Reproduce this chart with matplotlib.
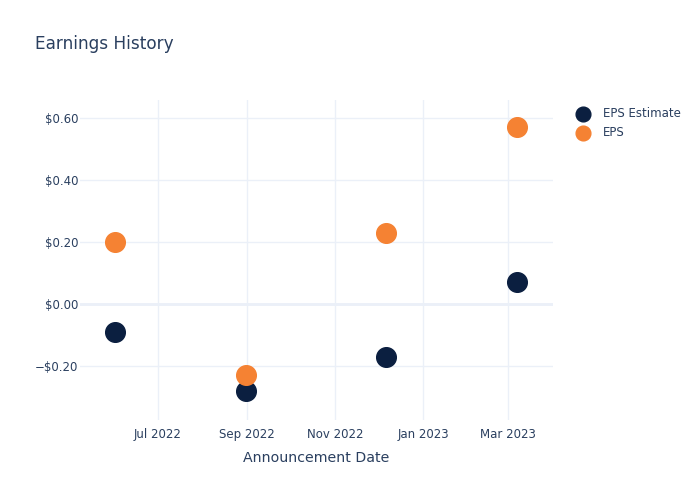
import matplotlib.pyplot as plt
import matplotlib.dates as mdates
import matplotlib.ticker as mticker
import pandas as pd

# announcement dates and EPS values
dates = pd.to_datetime(["2022-06-01", "2022-08-31", "2022-12-06", "2023-03-07"])
eps_estimate = [-0.09, -0.28, -0.17, 0.07]
eps_actual = [0.20, -0.23, 0.23, 0.57]

text_color = "#2a3f5f"
grid_color = "#ebf0f8"

fig = plt.figure(figsize=(7, 5), dpi=100)
ax = fig.add_axes([80 / 700, 0.16, (553 - 80) / 700, 0.64])

ax.scatter(dates, eps_estimate, s=200, color="#0b1f40", label="EPS Estimate", zorder=3)
ax.scatter(dates, eps_actual, s=200, color="#f58233", label="EPS", zorder=3)

ax.set_xlim(pd.Timestamp("2022-05-08"), pd.Timestamp("2023-04-01"))
ax.set_ylim(-0.374, 0.658)

ax.xaxis.set_major_locator(mdates.MonthLocator(bymonth=[1, 3, 5, 7, 9, 11]))
ax.xaxis.set_major_formatter(mdates.DateFormatter("%b %Y"))
ax.yaxis.set_major_locator(mticker.MultipleLocator(0.2))
ax.yaxis.set_major_formatter(mticker.FuncFormatter(
    lambda v, _: ("\u2212$%.2f" % -v) if v < -1e-9 else "$%.2f" % abs(v)))

ax.grid(True, color=grid_color, linewidth=1, zorder=0)
ax.axhline(0, color=grid_color, linewidth=2, zorder=1)
for side in ax.spines.values():
    side.set_visible(False)
ax.tick_params(length=0, colors=text_color, labelsize=8.5, pad=1)
ax.tick_params(axis="x", pad=6)

ax.set_xlabel("Announcement Date", color=text_color, fontsize=10.2, labelpad=7)
fig.text(35 / 700, 1 - 44 / 500, "Earnings History", color=text_color, fontsize=12.2, va="center")

leg = ax.legend(loc="upper left", bbox_to_anchor=(1.015, 1.01), frameon=False,
                fontsize=8.5, labelcolor=text_color, handletextpad=0.75,
                labelspacing=0.45, markerscale=0.75)

fig.savefig("out.png", dpi=100)
